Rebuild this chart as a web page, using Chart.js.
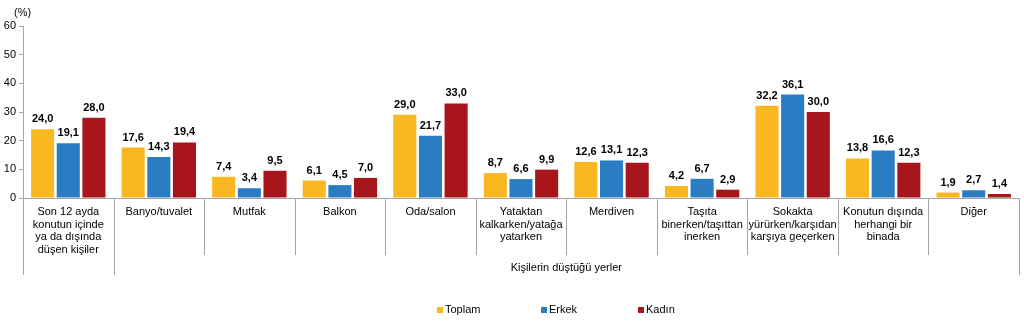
<!DOCTYPE html>
<html>
<head>
<meta charset="utf-8">
<script src="https://cdn.jsdelivr.net/npm/chart.js@4/dist/chart.umd.min.js"></script>
<style>
html,body{margin:0;padding:0;background:#fff;}
#wrap{width:1024px;height:324px;position:relative;}
</style>
</head>
<body>
<div id="wrap"><canvas id="c" width="1024" height="324"></canvas></div>
<script>
const categories = [
  ["Son 12 ayda","konutun içinde","ya da dışında","düşen kişiler"],
  "Banyo/tuvalet",
  "Mutfak",
  "Balkon",
  "Oda/salon",
  ["Yataktan","kalkarken/yatağa","yatarken"],
  "Merdiven",
  ["Taşıta","binerken/taşıttan","inerken"],
  ["Sokakta","yürürken/karşıdan","karşıya geçerken"],
  ["Konutun dışında","herhangi bir","binada"],
  "Diğer"
];
const seriesNames = ["Toplam","Erkek","Kadın"];
const toplam = [24.0,17.6,7.4,6.1,29.0,8.7,12.6,4.2,32.2,13.8,1.9];
const erkek  = [19.1,14.3,3.4,4.5,21.7,6.6,13.1,6.7,36.1,16.6,2.7];
const kadin  = [28.0,19.4,9.5,7.0,33.0,9.9,12.3,2.9,30.0,12.3,1.4];
const yTicks = [0,10,20,30,40,50,60];
const groupLabel = "Kişilerin düştüğü yerler";
const unitLabel = "(%)";

const colors = ["#F9B822","#2A7DC3","#A8161C"];
const axisColor = "#A6A6A6";
const FONT = "'Liberation Sans', Arial, sans-serif";

const fmt = v => v.toFixed(1).replace('.', ',');

const extrasPlugin = {
  id: 'extras',
  afterDatasetsDraw(chart) {
    const ctx = chart.ctx;
    ctx.save();
    ctx.font = "bold 11px " + FONT;
    ctx.fillStyle = "#000";
    ctx.textAlign = "center";
    ctx.textBaseline = "alphabetic";
    chart.data.datasets.forEach((ds, di) => {
      const meta = chart.getDatasetMeta(di);
      meta.data.forEach((el, i) => {
        ctx.fillText(fmt(ds.data[i]), el.x, el.y - 7);
      });
    });
    ctx.restore();
  },
  afterDraw(chart) {
    const ctx = chart.ctx;
    const xs = chart.scales.x;
    const ca = chart.chartArea;
    const n = categories.length;
    const half = (xs.getPixelForValue(1) - xs.getPixelForValue(0)) / 2;
    ctx.save();
    ctx.strokeStyle = axisColor;
    ctx.lineWidth = 1;
    const line = (x, y1, y2) => {
      ctx.beginPath();
      ctx.moveTo(Math.round(x) + 0.5, y1);
      ctx.lineTo(Math.round(x) + 0.5, y2);
      ctx.stroke();
    };
    const base = ca.bottom;
    // left axis extension and right end
    line(xs.getPixelForValue(0) - half, base, base + 77);
    line(xs.getPixelForValue(n - 1) + half, base, base + 77);
    for (let i = 0; i < n - 1; i++) {
      const x = xs.getPixelForValue(i) + half;
      line(x, base, base + (i === 0 ? 77 : 57));
    }
    // group label
    ctx.fillStyle = "#000";
    ctx.font = "11px " + FONT;
    ctx.textAlign = "center";
    ctx.textBaseline = "middle";
    const gx = ((xs.getPixelForValue(1) - half) + (xs.getPixelForValue(n - 1) + half)) / 2;
    ctx.fillText(groupLabel, gx, base + 70);
    // unit label
    ctx.textAlign = "left";
    ctx.fillText(unitLabel, 14, 13);
    // legend
    const legendX = [437, 541, 638];
    const ly = 310;
    seriesNames.forEach((name, i) => {
      ctx.fillStyle = colors[i];
      ctx.fillRect(legendX[i], ly - 3, 6, 6);
      ctx.fillStyle = "#000";
      ctx.fillText(name, legendX[i] + 8, ly);
    });
    ctx.restore();
  }
};

new Chart(document.getElementById('c'), {
  type: 'bar',
  data: {
    labels: categories,
    datasets: [
      { label: seriesNames[0], data: toplam, backgroundColor: colors[0] },
      { label: seriesNames[1], data: erkek,  backgroundColor: colors[1] },
      { label: seriesNames[2], data: kadin,  backgroundColor: colors[2] }
    ]
  },
  options: {
    responsive: false,
    animation: false,
    events: [],
    layout: { padding: { top: 26, right: 5, left: 0, bottom: 0 } },
    datasets: { bar: { categoryPercentage: 0.85, barPercentage: 0.9 } },
    plugins: { legend: { display: false }, tooltip: { enabled: false } },
    scales: {
      x: {
        grid: { display: false, drawTicks: false },
        border: { display: true, color: axisColor },
        ticks: {
          autoSkip: false, maxRotation: 0, minRotation: 0, padding: 7,
          color: "#000", font: { family: FONT, size: 11, lineHeight: 1.18 }
        },
        afterFit(s) { s.height = 126; }
      },
      y: {
        min: 0, max: 60,
        afterBuildTicks(s) { s.ticks = yTicks.map(v => ({ value: v })); },
        grid: { drawOnChartArea: false, drawTicks: true, tickLength: 4, color: axisColor },
        border: { display: true, color: axisColor },
        ticks: { padding: 3, color: "#000", font: { family: FONT, size: 11 } },
        afterFit(s) { s.width = 23; }
      }
    }
  },
  plugins: [extrasPlugin]
});
</script>
</body>
</html>
